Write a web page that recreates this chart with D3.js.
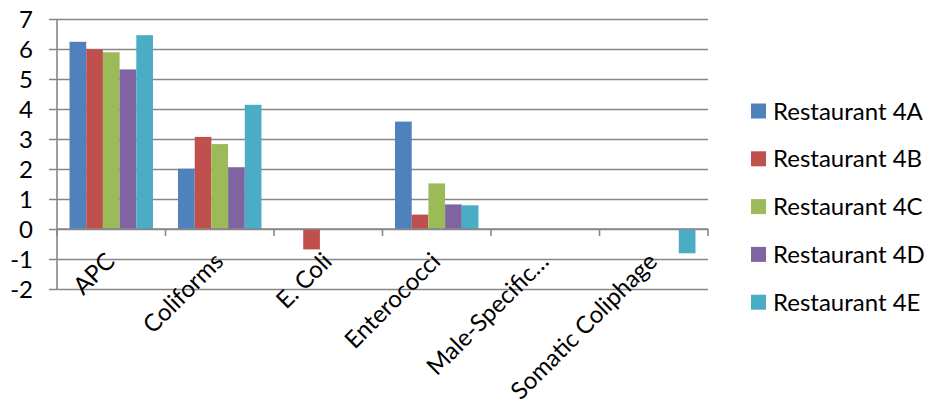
<!DOCTYPE html>
<html>
<head>
<meta charset="utf-8">
<script src="https://cdn.jsdelivr.net/npm/d3@7"></script>
<style>
  html, body { margin: 0; padding: 0; background: #ffffff; }
  svg { display: block; font-family: Lato, "Open Sans", sans-serif; }
</style>
</head>
<body>
<svg id="chart" width="929" height="407"></svg>
<script>
// Indicator categories along the x axis
const categories = ["APC", "Coliforms", "E. Coli", "Enterococci", "Male-Specific…", "Somatic Coliphage"];

// One series per restaurant (log values)
const seriesNames = ["Restaurant 4A", "Restaurant 4B", "Restaurant 4C", "Restaurant 4D", "Restaurant 4E"];
const restaurant4A = [6.24, 2.01, 0, 3.58, 0, 0];
const restaurant4B = [5.99, 3.07, -0.68, 0.48, 0, 0];
const restaurant4C = [5.89, 2.83, 0, 1.52, 0, 0];
const restaurant4D = [5.32, 2.06, 0, 0.82, 0, 0];
const restaurant4E = [6.46, 4.14, 0, 0.79, 0, -0.81];
const seriesValues = [restaurant4A, restaurant4B, restaurant4C, restaurant4D, restaurant4E];
const seriesColors = ["#4F81BD", "#C0504D", "#9BBB59", "#8064A2", "#4BACC6"];

// Value axis ticks
const yTicks = [-2, -1, 0, 1, 2, 3, 4, 5, 6, 7];

const svg = d3.select("#chart");
const plot = { left: 57, right: 708, top: 19, bottom: 289 };
const gridColor = "#878787";
const fontSize = 24;

const y = d3.scaleLinear().domain([-2, 7]).range([plot.bottom, plot.top]);
const x0 = d3.scaleBand().domain(categories).range([plot.left, plot.right]).padding(0);
const x1 = d3.scaleBand().domain(seriesNames).range([0, x0.bandwidth()])
  .paddingInner(0).paddingOuter(0.75);
const color = d3.scaleOrdinal().domain(seriesNames).range(seriesColors);

// Horizontal gridlines with short tick stubs to the left of the value axis
const yAxis = d3.axisLeft(y).tickValues(yTicks).tickSize(plot.right - plot.left + 8)
  .tickFormat(d => d3.format("")(d).replace("−", "-"));
const yg = svg.append("g")
  .attr("transform", `translate(${plot.right},0)`)
  .call(yAxis);
yg.select(".domain").remove();
yg.selectAll(".tick line").attr("stroke", gridColor).attr("stroke-width", 1.6);
yg.selectAll(".tick text")
  .attr("x", -(plot.right - 33))
  .attr("dy", "0.36em")
  .attr("fill", "#000")
  .style("font-size", fontSize + "px")
  .style("font-family", "Lato, sans-serif");

// Vertical value-axis line
svg.append("line")
  .attr("x1", plot.left).attr("x2", plot.left)
  .attr("y1", y(7)).attr("y2", y(-2))
  .attr("stroke", gridColor).attr("stroke-width", 1.6);

// Bars
const rows = categories.map((c, i) => ({
  category: c,
  values: seriesNames.map((s, j) => ({ series: s, value: seriesValues[j][i] }))
}));

const groups = svg.append("g").selectAll("g")
  .data(rows).join("g")
  .attr("transform", d => `translate(${x0(d.category)},0)`);

groups.selectAll("rect")
  .data(d => d.values.filter(v => v.value !== 0))
  .join("rect")
  .attr("x", d => x1(d.series))
  .attr("width", x1.bandwidth())
  .attr("y", d => y(Math.max(0, d.value)))
  .attr("height", d => Math.abs(y(d.value) - y(0)))
  .attr("fill", d => color(d.series));

// Category axis along the zero line, ticks between categories
const boundaries = categories.map(c => x0(c)).concat([plot.right]);
const xg = svg.append("g");
xg.append("line")
  .attr("x1", plot.left).attr("x2", plot.right)
  .attr("y1", y(0)).attr("y2", y(0))
  .attr("stroke", gridColor).attr("stroke-width", 1.6);
xg.selectAll("line.tick").data(boundaries).join("line")
  .attr("class", "tick")
  .attr("x1", d => d).attr("x2", d => d)
  .attr("y1", y(0)).attr("y2", y(0) + 7)
  .attr("stroke", gridColor).attr("stroke-width", 1.6);

// Rotated category labels
svg.append("g").selectAll("text")
  .data(categories).join("text")
  .attr("transform", d => `translate(${x0(d) + x0.bandwidth() / 2 + 5},${y(0) + 34}) rotate(-45)`)
  .attr("text-anchor", "end")
  .attr("fill", "#000")
  .style("font-size", fontSize + "px")
  .text(d => d);

// Legend
const legend = svg.append("g").attr("transform", "translate(751,111)");
const items = legend.selectAll("g").data(seriesNames).join("g")
  .attr("transform", (d, i) => `translate(0,${i * 47.8})`);
items.append("rect")
  .attr("x", 0).attr("y", -7.5)
  .attr("width", 15).attr("height", 15)
  .attr("fill", d => color(d));
items.append("text")
  .attr("x", 22).attr("dy", "0.36em")
  .attr("fill", "#000")
  .style("font-size", fontSize + "px")
  .text(d => d);
</script>
</body>
</html>
